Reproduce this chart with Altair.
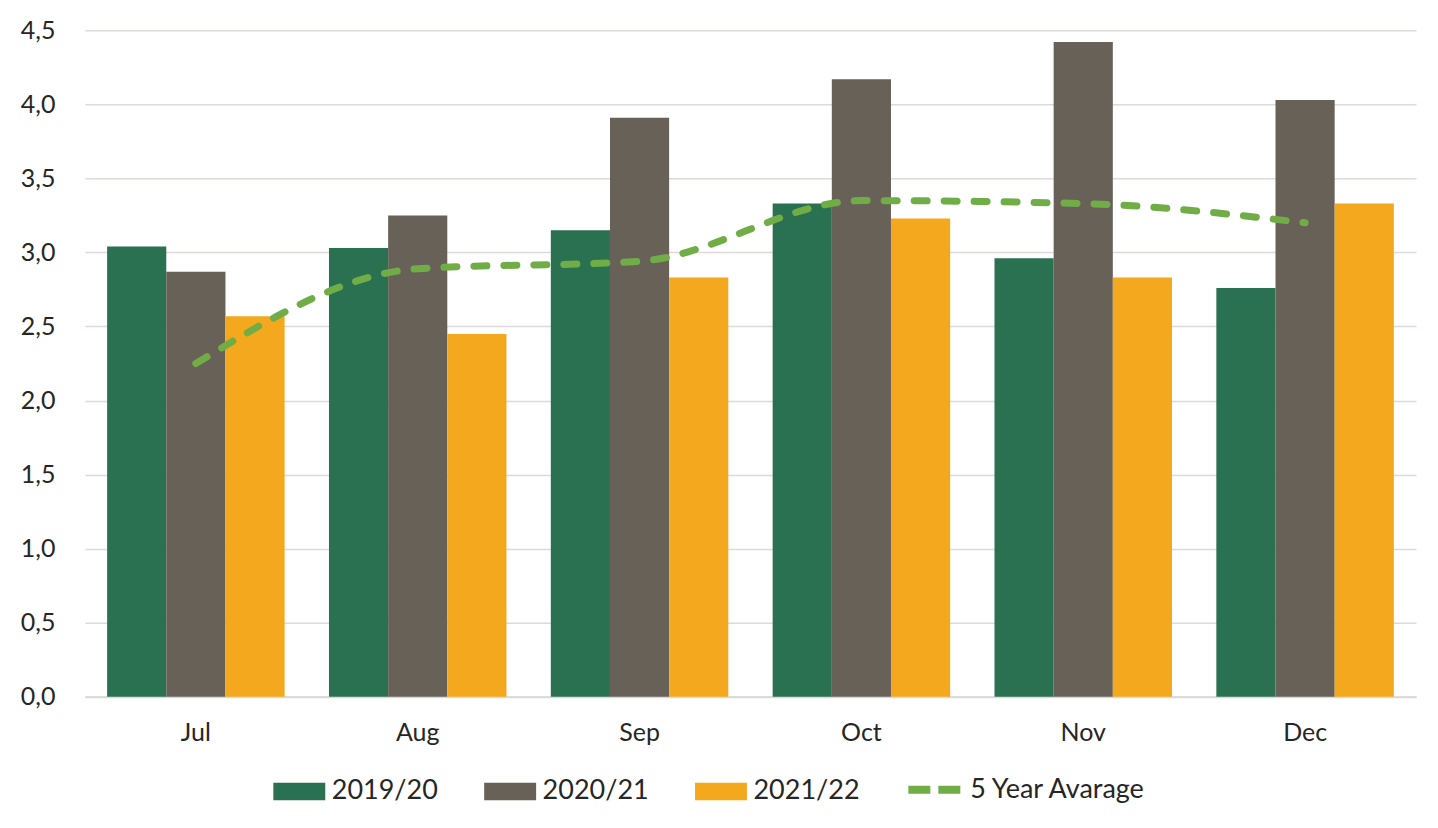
import altair as alt
import pandas as pd

MONTHS = ["Jul", "Aug", "Sep", "Oct", "Nov", "Dec"]
SEASONS = ["2019/20", "2020/21", "2021/22"]
VALUES_2019_20 = [3.04, 3.03, 3.15, 3.33, 2.96, 2.76]
VALUES_2020_21 = [2.87, 3.25, 3.91, 4.17, 4.42, 4.03]
VALUES_2021_22 = [2.57, 2.45, 2.83, 3.23, 2.83, 3.33]
AVERAGE_5Y = [2.25, 2.89, 2.94, 3.35, 3.33, 3.20]
AVERAGE_LABEL = "5 Year Avarage"
Y_TICKS = [0, 0.5, 1.0, 1.5, 2.0, 2.5, 3.0, 3.5, 4.0, 4.5]

BAR_COLORS = ["#2a7152", "#686158", "#f4a81d"]
LINE_COLOR = "#70ad47"
FONT = "Lato"
TEXT_COLOR = "#262626"

# wide flat rectangle used as the bar legend symbol
RECT_PATH = "M-1.5,-0.5L1.5,-0.5L1.5,0.5L-1.5,0.5Z"

bars = pd.DataFrame(
    [
        {"month": m, "season": s, "value": v}
        for s, vals in zip(SEASONS, [VALUES_2019_20, VALUES_2020_21, VALUES_2021_22])
        for m, v in zip(MONTHS, vals)
    ]
)
avg = pd.DataFrame({"month": MONTHS, "value": AVERAGE_5Y, "series": AVERAGE_LABEL})

x_enc = alt.X(
    "month:N",
    sort=MONTHS,
    title=None,
    scale=alt.Scale(paddingInner=0.2, paddingOuter=0.1),
    axis=alt.Axis(
        labelAngle=0,
        ticks=False,
        labelPadding=24,
        domainColor="#d9d9d9",
        domainWidth=2,
        grid=False,
    ),
)
y_enc = alt.Y(
    "value:Q",
    title=None,
    scale=alt.Scale(domain=[0, 4.5], nice=False),
    axis=alt.Axis(
        values=Y_TICKS,
        ticks=False,
        domain=False,
        labelPadding=30,
        gridColor="#dedada",
        gridWidth=1.5,
        labelExpr="replace(format(datum.value, '.1f'), '.', ',')",
    ),
)

bar_layer = alt.Chart(bars).mark_bar().encode(
    x=x_enc,
    y=y_enc,
    xOffset=alt.XOffset("season:N", sort=SEASONS),
    color=alt.Color(
        "season:N",
        sort=SEASONS,
        scale=alt.Scale(domain=SEASONS, range=BAR_COLORS),
        legend=alt.Legend(
            title=None,
            orient="none",
            legendX=197,
            legendY=744,
            direction="horizontal",
            symbolType=RECT_PATH,
            symbolSize=1200,
            symbolStrokeWidth=0,
            symbolOpacity=1,
            columnPadding=45,
            labelOffset=15,
        ),
    ),
)

line_layer = alt.Chart(avg).mark_line(
    strokeWidth=7,
    strokeCap="round",
    interpolate="monotone",
).encode(
    x=alt.X("month:N", sort=MONTHS),
    y="value:Q",
    strokeDash=alt.StrokeDash(
        "series:N", scale=alt.Scale(domain=[AVERAGE_LABEL], range=[[13, 17]]), legend=None
    ),
    color=alt.Color(
        "series:N",
        scale=alt.Scale(domain=[AVERAGE_LABEL], range=[LINE_COLOR]),
        legend=alt.Legend(
            title=None,
            orient="none",
            legendX=820,
            legendY=730,
            symbolType="stroke",
            symbolSize=2704,
            symbolStrokeWidth=8,
            symbolDash=[22, 8],
            labelOffset=6,
            labelLimit=400,
        ),
    ),
)

chart = (
    alt.layer(bar_layer, line_layer)
    .resolve_scale(color="independent")
    .properties(width=1332, height=667, padding={"left": 12, "top": 10, "right": 14, "bottom": 5})
    .configure_view(stroke=None)
    .configure_axis(labelFont=FONT, labelFontSize=25, labelColor=TEXT_COLOR)
    .configure_legend(labelFont=FONT, labelFontSize=27, labelColor=TEXT_COLOR)
)

chart.save("out.html", embed_options={"renderer": "svg", "actions": False})
